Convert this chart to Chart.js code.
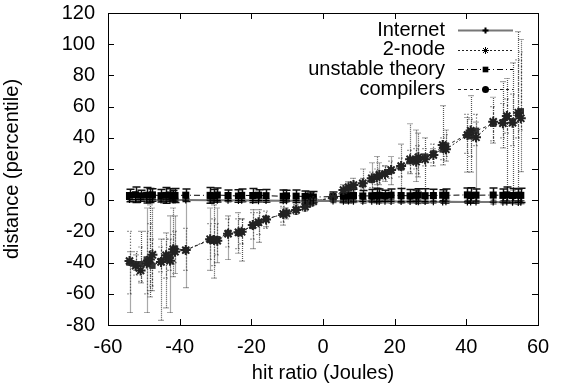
<!DOCTYPE html>
<html>
<head>
<meta charset="utf-8">
<script src="https://cdn.jsdelivr.net/npm/chart.js@4/dist/chart.umd.min.js"></script>
<style>
  html, body { margin: 0; padding: 0; background: #fff; }
  #wrap { width: 563px; height: 389px; position: relative; }
</style>
</head>
<body>
<div id="wrap"><canvas id="plot"></canvas></div>
<script>
// shared x positions (hit ratio)
const hitRatio = [-54, -52.3, -50.9, -49.2, -48.3, -47.6, -45.2, -43.8, -42.7, -41.8, -41.3, -38.3,
  -31.5, -30.4, -29.5, -26.5, -23.6, -22.7, -19.6, -18, -15.9, -11.1, -10.2, -7.5, -5, -3.6, -2.7,
  2.8, 5.7, 7.1, 8.5, 11.1, 13.6, 15, 15.7, 17.3, 19, 21.8, 24.3, 26, 26.6, 28.5, 30.8, 33.4, 34.3,
  40.3, 41.2, 42.7, 47.5, 50.2, 51.3, 52.9, 54.5, 55.2];

// Internet
const internetY = [0.5, 0.4, 0.5, 0.3, 0.4, 0.3, 0.2, 0.3, 0.2, 0.1, 0.2, 0.1, 0, 0.1, -0.1, -0.1, -0.2, -0.1, -0.2,
  -0.3, -0.2, -0.3, -0.4, -0.3, -0.4, -0.5, -0.4, -0.5, -0.6, -0.5, -0.6, -0.7, -0.6, -0.7, -0.8, -0.7, -0.8,
  -0.9, -0.8, -0.9, -1, -0.9, -1, -1.1, -1, -1.1, -1.2, -1.1, -1.2, -1.3, -1.2, -1.3, -1.4, -1.3];
const internetErr = [1, 1.2, 0.8, 1, 1.1, 0.9, 1, 1.2, 0.8, 1, 1, 0.9, 1.1, 1, 0.8, 1, 1.2, 1, 0.9, 1, 1.1, 1,
  0.8, 1, 1, 0.9, 1, 1.1, 1, 0.9, 1, 1.2, 1, 0.8, 1, 1, 1.1, 0.9, 1, 1, 1.2, 1, 0.9, 1, 1.1, 1, 0.8, 1, 1.2,
  1, 0.9, 1, 1.1, 1];

// 2-node
const nodeY = [-39, -42, -45, -40.5, -38, -35, -39.6, -35.3, -38.8, -31.5, -33, -32, -25, -25.5, -26, -21.5,
  -20.6, -20.3, -15.9, -14.2, -12.3, -8.8, -8.4, -6.3, -4.2, -1.6, -0.6, 1.5, 6.5, 8.3, 9.7, 10.8, 14, 14.7,
  16.2, 16.8, 19.4, 21.9, 26.2, 24.7, 27.5, 26.2, 29, 35.4, 32.6, 41.8, 44.6, 40.3, 50.3, 49.3, 54, 49.7, 56.1, 52.5];
const nodeLow = [-72, -45, -53, -72, -62, -58, -77, -69, -72, -49, -47, -56, -45, -50, -40, -38, -34, -39, -31,
  -27, -17, -16, -12, -9, -7, -4, -3, 0, 0, 5, 6, 8, 5, 8, 10, 12, 10, 0, 17, 12, 15, 2, 22, 22.6, 25, 18, 18,
  5, 36.6, 33.5, 2, 6.5, 3.3, 18.3];
const nodeHigh = [-33, -35, -20, -5, -3, -5, -25, -21, -10, -5, -10, 0, -5, -3, -5, -10, -8, -12, -6, -6, -10,
  -5, -5, -3, -2, 0, 1, 3, 10, 12, 14, 20, 24, 28, 24, 22, 28, 36, 49, 45, 43, 40, 33, 60.6, 45, 53, 67, 50,
  66, 76, 78, 88, 108, 103];

// unstable theory
const unstableY = [3, 3.5, 2.8, 3.2, 3, 3.4, 2.9, 3.1, 3.3, 2.7, 3, 3.2, 3.1, 2.8, 3.3, 3, 2.7, 3.1, 3, 3.2,
  2.9, 2.5, 2.8, 2.6, 2.4, 2.2, 2, 2.3, 2.6, 2.9, 3, 2.7, 2.8, 3, 3.1, 2.9, 3.2, 3, 2.8, 3.1, 3.3, 2.9, 3,
  3.2, 3.1, 3.4, 3, 3.2, 3.3, 3.1, 3.4, 3, 3.2, 3.1];
const unstableErr = [4, 5, 3.5, 5, 4.5, 4, 4, 5, 4, 3.5, 4.5, 4, 5, 4, 4.5, 3.5, 4, 4, 4.5, 3.5, 4, 4, 3.5,
  4, 3.5, 3, 3.5, 3, 4, 4.5, 4, 3.5, 4, 4.5, 4, 3.5, 4, 4.5, 4, 3.5, 4, 4.5, 4, 3.5, 4, 4.5, 5, 4, 4.5, 4,
  5, 4.5, 4, 4.5];

// compilers
const compY = [-40, -41, -41, -38, -41, -42, -39, -38, -35, -33, -31, -32, -25.5, -26, -25, -21, -21, -20,
  -16.5, -14.5, -12, -9, -8, -6, -3.5, -1, -0.2, 1.2, 5.5, 7.5, 9, 10.5, 13, 15, 15.5, 17, 19, 21, 25, 26.5,
  26, 28, 30, 32.5, 35, 42, 41, 44.5, 49, 50, 53.5, 50.5, 55, 57];
const compLow = [-60, -48, -52, -60, -58, -55, -46, -50, -45, -41, -40, -45, -38, -42, -35, -30, -31, -28,
  -25, -22, -18, -14, -11, -9, -6, -3, -2, -1, 2, 4, 5, 7, 8, 10, 11, 13, 14, 15, 18, 20, 17, 22, 24, 26,
  28, 30, 28, 35, 38, 40, 43, 35, 40, 45];
const compHigh = [-20, -33, -30, -20, -15, -25, -30, -25, -25, -22, -20, -18, -15, -12, -15, -12, -12, -12,
  -8, -8, -7, -4, -5, -3, -1, 1, 2, 3, 8, 11, 12, 14, 18, 20, 19, 22, 25, 27, 32, 33, 35, 33, 36, 40, 42,
  55, 52, 55, 60, 62, 65, 68, 90, 95];

const seriesNames = ['Internet', '2-node', 'unstable theory', 'compilers'];

function pts(ys) {
  return hitRatio.map((x, i) => ({ x: x, y: ys[i] }));
}
function symLow(ys, e) { return ys.map((v, i) => v - e[i]); }
function symHigh(ys, e) { return ys.map((v, i) => v + e[i]); }

const FONT = "'Liberation Sans', Arial, Helvetica, sans-serif";

// error bars drawn under the points, using the chart's own scales
const errorBars = {
  id: 'errorBars',
  beforeDatasetsDraw(chart) {
    const ctx = chart.ctx;
    const xs = chart.scales.x, ys = chart.scales.y;
    chart.data.datasets.forEach(ds => {
      ctx.save();
      ctx.strokeStyle = ds.errColor;
      ctx.lineWidth = ds.errWidth;
      ctx.setLineDash(ds.errDash);
      ds.data.forEach((p, i) => {
        const px = Math.round(xs.getPixelForValue(p.x)) + 0.5;
        const lo = ys.getPixelForValue(ds.errLow[i]);
        const hi = ys.getPixelForValue(ds.errHigh[i]);
        const c = ds.errCap;
        ctx.beginPath();
        ctx.moveTo(px, lo); ctx.lineTo(px, hi);
        ctx.moveTo(px - c, lo); ctx.lineTo(px + c, lo);
        ctx.moveTo(px - c, hi); ctx.lineTo(px + c, hi);
        ctx.stroke();
      });
      ctx.restore();
    });
  }
};

// frame, inward ticks on all four sides, and the gnuplot style key
const frameAndKey = {
  id: 'frameAndKey',
  afterDraw(chart) {
    const ctx = chart.ctx;
    const a = chart.chartArea;
    const xs = chart.scales.x, ys = chart.scales.y;
    ctx.save();
    ctx.strokeStyle = '#000';
    ctx.lineWidth = 1;
    ctx.setLineDash([]);
    ctx.strokeRect(Math.round(a.left) + 0.5, Math.round(a.top) + 0.5,
      Math.round(a.right - a.left), Math.round(a.bottom - a.top));
    ctx.beginPath();
    xs.ticks.forEach(t => {
      const px = Math.round(xs.getPixelForValue(t.value)) + 0.5;
      ctx.moveTo(px, a.bottom); ctx.lineTo(px, a.bottom - 6);
      ctx.moveTo(px, a.top); ctx.lineTo(px, a.top + 6);
    });
    ys.ticks.forEach(t => {
      const py = Math.round(ys.getPixelForValue(t.value)) + 0.5;
      ctx.moveTo(a.left, py); ctx.lineTo(a.left + 6, py);
      ctx.moveTo(a.right, py); ctx.lineTo(a.right - 6, py);
    });
    ctx.stroke();

    // key
    ctx.font = '20px ' + FONT;
    ctx.fillStyle = '#000';
    ctx.textAlign = 'right';
    ctx.textBaseline = 'middle';
    chart.data.datasets.forEach((ds, i) => {
      const y = 30 + i * 19.7;
      ctx.fillText(ds.label, 445, y);
      ctx.save();
      ctx.strokeStyle = ds.borderColor;
      ctx.lineWidth = ds.borderWidth;
      ctx.setLineDash(ds.borderDash || []);
      ctx.beginPath();
      ctx.moveTo(458, Math.round(y) + 0.5); ctx.lineTo(513, Math.round(y) + 0.5);
      ctx.stroke();
      ctx.setLineDash([]);
      ctx.fillStyle = '#000';
      ctx.strokeStyle = '#000';
      Chart.helpers.drawPoint(ctx, {
        pointStyle: ds.keyStyle, radius: ds.keyRadius, borderWidth: ds.pointBorderWidth, rotation: 0
      }, 485.5, Math.round(y) + 0.5);
      ctx.restore();
    });
    ctx.restore();
  }
};

new Chart(document.getElementById('plot'), {
  type: 'scatter',
  data: {
    datasets: [
      {
        label: seriesNames[0], data: pts(internetY), showLine: true,
        borderColor: '#777', borderWidth: 2, borderDash: [],
        pointStyle: 'cross', pointRadius: 3.5, pointBorderWidth: 1.2, keyStyle: 'cross', keyRadius: 3,
        pointBackgroundColor: '#000', pointBorderColor: '#000',
        errLow: symLow(internetY, internetErr), errHigh: symHigh(internetY, internetErr),
        errColor: '#333', errDash: [], errWidth: 1, errCap: 3
      },
      {
        label: seriesNames[1], data: pts(nodeY), showLine: true,
        borderColor: '#222', borderWidth: 1, borderDash: [2, 2],
        pointStyle: 'star', pointRadius: 5, pointBorderWidth: 2, keyStyle: 'star', keyRadius: 3.5,
        pointBackgroundColor: '#222', pointBorderColor: '#222',
        errLow: nodeLow, errHigh: nodeHigh,
        errColor: '#555', errDash: [1, 1], errWidth: 1.2, errCap: 3
      },
      {
        label: seriesNames[2], data: pts(unstableY), showLine: true,
        borderColor: '#000', borderWidth: 1, borderDash: [6, 3, 1, 3],
        pointStyle: 'rect', pointRadius: 5, pointBorderWidth: 0, keyStyle: 'rect', keyRadius: 4,
        pointBackgroundColor: '#000', pointBorderColor: '#000',
        errLow: symLow(unstableY, unstableErr), errHigh: symHigh(unstableY, unstableErr),
        errColor: '#111', errDash: [], errWidth: 1.5, errCap: 4
      },
      {
        label: seriesNames[3], data: pts(compY), showLine: true,
        borderColor: '#222', borderWidth: 1, borderDash: [3, 3],
        pointStyle: 'rect', pointRadius: 4.5, pointBorderWidth: 0, keyStyle: 'circle', keyRadius: 3.5,
        pointBackgroundColor: '#333', pointBorderColor: '#333',
        errLow: compLow, errHigh: compHigh,
        errColor: '#444', errDash: [1, 2], errWidth: 1.2, errCap: 3
      }
    ]
  },
  options: {
    responsive: true,
    maintainAspectRatio: false,
    animation: false,
    layout: { padding: { left: 0, right: 25, top: 13, bottom: 0 } },
    plugins: { legend: { display: false }, tooltip: { enabled: false } },
    scales: {
      x: {
        type: 'linear', min: -60, max: 60,
        grid: { display: false, drawTicks: false }, border: { display: false },
        ticks: { stepSize: 20, padding: 10, color: '#000', font: { family: FONT, size: 20 } },
        title: { display: true, text: 'hit ratio (Joules)', color: '#000',
          font: { family: FONT, size: 20 }, padding: { top: 0, bottom: 4 } },
        afterFit: s => { s.height = 64; s.paddingLeft = 0; s.paddingRight = 0; }
      },
      y: {
        type: 'linear', min: -80, max: 120,
        grid: { display: false, drawTicks: false }, border: { display: false },
        ticks: { stepSize: 20, padding: 13, color: '#000', font: { family: FONT, size: 20 } },
        title: { display: true, text: 'distance (percentile)', color: '#000',
          font: { family: FONT, size: 20 }, padding: { top: 0, bottom: 0 } },
        afterFit: s => { s.width = 108; s.paddingTop = 0; s.paddingBottom = 0; }
      }
    }
  },
  plugins: [errorBars, frameAndKey]
});
</script>
</body>
</html>
